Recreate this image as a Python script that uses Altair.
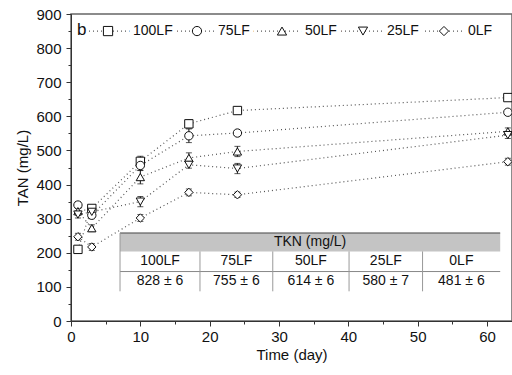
import altair as alt
import pandas as pd

# ---------------- data ----------------
days = [1, 3, 10, 17, 24, 63]
series_names = ["100LF", "75LF", "50LF", "25LF", "0LF"]
tan_100 = [210, 330, 468, 578, 617, 655]
tan_75 = [340, 310, 456, 543, 551, 612]
tan_50 = [322, 272, 422, 478, 497, 556]
tan_25 = [312, 320, 350, 458, 447, 545]
tan_0 = [247, 217, 302, 377, 370, 467]
err_100 = [10, 8, 15, 12, 10, 8]
err_75 = [10, 10, 15, 20, 8, 8]
err_50 = [12, 10, 20, 15, 15, 10]
err_25 = [10, 12, 15, 10, 15, 10]
err_0 = [10, 10, 10, 10, 8, 10]
tkn_values = ["828 \u00b1 6", "755 \u00b1 6", "614 \u00b1 6", "580 \u00b1 7", "481 \u00b1 6"]
tkn_header = "TKN (mg/L)"
panel_letter = "b"

shapes = ["square", "circle", "triangle-up", "triangle-down", "diamond"]

rows = []
for name, vals, errs in zip(series_names, [tan_100, tan_75, tan_50, tan_25, tan_0],
                            [err_100, err_75, err_50, err_25, err_0]):
    for d, v, e in zip(days, vals, errs):
        rows.append(dict(series=name, day=d, tan=v, lo=v - e, hi=v + e))
df = pd.DataFrame(rows)

# ---------------- layout (data units) ----------------
col_edges = [7.07, 18.6, 29.1, 40.1, 50.7, 61.9]
tab_y = [87, 145, 204, 258]  # bottom, row line, header bottom, header top
col_centers = [(a + b) / 2 for a, b in zip(col_edges[:-1], col_edges[1:])]

legend_y = 850
legend_sym_x = [5.34, 18.17, 30.43, 42.11, 53.79]
legend_lab_x = [8.94, 21.2, 33.74, 45.57, 57.25]
legend_line = [2.6, 56.9]
letter_pos = (0.85, 852)

FONT = "Liberation Sans"
FS = 15

xscale = alt.Scale(domain=[0, 63.6], nice=False, zero=False)
yscale = alt.Scale(domain=[0, 900], nice=False, zero=True)

xaxis = alt.Axis(
    values=list(range(0, 65, 5)),
    labelExpr="datum.value % 10 === 0 ? datum.label : ''",
    tickSize={"condition": {"test": "datum.value % 10 === 0", "value": 5}, "value": 3},
    title="Time (day)", grid=False, labelFontSize=FS, titleFontSize=FS,
    labelFont=FONT, titleFont=FONT, titleFontWeight="normal",
    domainColor="#333", tickColor="#333", labelColor="#111", titleColor="#111",
    labelPadding=3, titlePadding=3, labelFlush=False,
)
yaxis = alt.Axis(
    values=list(range(0, 901, 50)),
    labelExpr="datum.value % 100 === 0 ? datum.label : ''",
    tickSize={"condition": {"test": "datum.value % 100 === 0", "value": 5}, "value": 3},
    title="TAN (mg/L)", grid=False, labelFontSize=FS, titleFontSize=FS,
    labelFont=FONT, titleFont=FONT, titleFontWeight="normal",
    domainColor="#333", tickColor="#333", labelColor="#111", titleColor="#111",
    labelPadding=5, titlePadding=5, labelFlush=False,
)


def X(field, **kw):
    return alt.X(field, type="quantitative", scale=xscale, axis=xaxis, **kw)


def Y(field, **kw):
    return alt.Y(field, type="quantitative", scale=yscale, axis=yaxis, **kw)


shape_scale = alt.Scale(domain=series_names, range=shapes)

base = alt.Chart(df)

lines = base.mark_line(strokeDash=[1, 3], color="#555", strokeWidth=1.2).encode(
    x=X("day"), y=Y("tan"), detail="series:N"
)

# ---- table ----
tab_rect_df = pd.DataFrame({
    "x0": [col_edges[0], col_edges[0]], "x1": [col_edges[-1], col_edges[-1]],
    "y0": [tab_y[0], tab_y[2]], "y1": [tab_y[2], tab_y[3]],
    "fill": ["white", "#c4c4c4"],
})
tab_rects = alt.Chart(tab_rect_df).mark_rect(stroke=None).encode(
    x=X("x0"), x2="x1", y=Y("y0"), y2="y1",
    fill=alt.Fill("fill:N", scale=None),
)
hline_df = pd.DataFrame({
    "x0": [col_edges[0], col_edges[0]], "x1": [col_edges[-1], col_edges[-1]],
    "y": [tab_y[1], tab_y[3]], "c": ["#888", "#444"],
})
hlines = alt.Chart(hline_df).mark_rule(strokeWidth=1).encode(
    x=X("x0"), x2="x1", y=Y("y"), color=alt.Color("c:N", scale=None)
)
vline_df = pd.DataFrame({
    "x": col_edges[:-1],
    "y0": [tab_y[0]] * 5, "y1": [tab_y[3]] + [tab_y[2]] * 4,
})
vlines = alt.Chart(vline_df).mark_rule(strokeWidth=1, color="#999").encode(
    x=X("x"), y=Y("y0"), y2="y1"
)
txt_df = pd.DataFrame({
    "x": col_centers + col_centers + [(col_edges[0] + col_edges[-1]) / 2],
    "y": [(tab_y[1] + tab_y[2]) / 2] * 5 + [(tab_y[0] + tab_y[1]) / 2] * 5 + [(tab_y[2] + tab_y[3]) / 2],
    "t": series_names + tkn_values + [tkn_header],
})
tab_text = alt.Chart(txt_df).mark_text(
    font=FONT, fontSize=14, color="#111", baseline="middle", align="center"
).encode(x=X("x"), y=Y("y"), text="t:N")

# ---- error bars ----
ebars = base.mark_rule(color="#111", strokeWidth=1).encode(
    x=X("day"), y=Y("lo"), y2="hi"
)
caps_lo = base.mark_tick(orient="horizontal", size=6, thickness=1, color="#111").encode(
    x=X("day"), y=Y("lo")
)
caps_hi = base.mark_tick(orient="horizontal", size=6, thickness=1, color="#111").encode(
    x=X("day"), y=Y("hi")
)

points = base.mark_point(filled=True, fill="white", stroke="#111", strokeWidth=1,
                         size=70, opacity=1).encode(
    x=X("day"), y=Y("tan"),
    shape=alt.Shape("series:N", scale=shape_scale, legend=None),
)

# ---- in-plot legend ----
leg_line_df = pd.DataFrame({"x0": [legend_line[0]], "x1": [legend_line[1]], "y": [legend_y]})
leg_line = alt.Chart(leg_line_df).mark_rule(strokeDash=[1, 3], color="#555", strokeWidth=1.2).encode(
    x=X("x0"), x2="x1", y=Y("y")
)
leg_df = pd.DataFrame({
    "series": series_names, "sx": legend_sym_x, "lx": legend_lab_x, "y": [legend_y] * 5,
})
leg_pts = alt.Chart(leg_df).mark_point(filled=True, fill="white", stroke="#111",
                                       strokeWidth=1, size=85, opacity=1).encode(
    x=X("sx"), y=Y("y"), shape=alt.Shape("series:N", scale=shape_scale, legend=None)
)
leg_halo = alt.Chart(leg_df).mark_text(
    font=FONT, fontSize=14, color="white", stroke="white", strokeWidth=9,
    align="left", baseline="middle"
).encode(x=X("lx"), y=Y("y"), text="series:N")
leg_text = alt.Chart(leg_df).mark_text(
    font=FONT, fontSize=14, color="#111", align="left", baseline="middle"
).encode(x=X("lx"), y=Y("y"), text="series:N")

letter_df = pd.DataFrame({"x": [letter_pos[0]], "y": [letter_pos[1]], "t": [panel_letter]})
letter = alt.Chart(letter_df).mark_text(
    font=FONT, fontSize=17, color="#111", align="left", baseline="middle"
).encode(x=X("x"), y=Y("y"), text="t:N")

chart = alt.layer(
    lines, tab_rects, hlines, vlines, tab_text, ebars, caps_lo, caps_hi, points,
    leg_line, leg_halo, leg_text, leg_pts, letter
).properties(
    width=441, height=307,
    autosize=alt.AutoSizeParams(type="none"),
    padding={"left": 71, "top": 14, "right": 0, "bottom": 54},
    background="white",
).configure_view(stroke="#666", strokeWidth=1.5)

chart.save("out.html", embed_options={"renderer": "svg", "actions": False})
